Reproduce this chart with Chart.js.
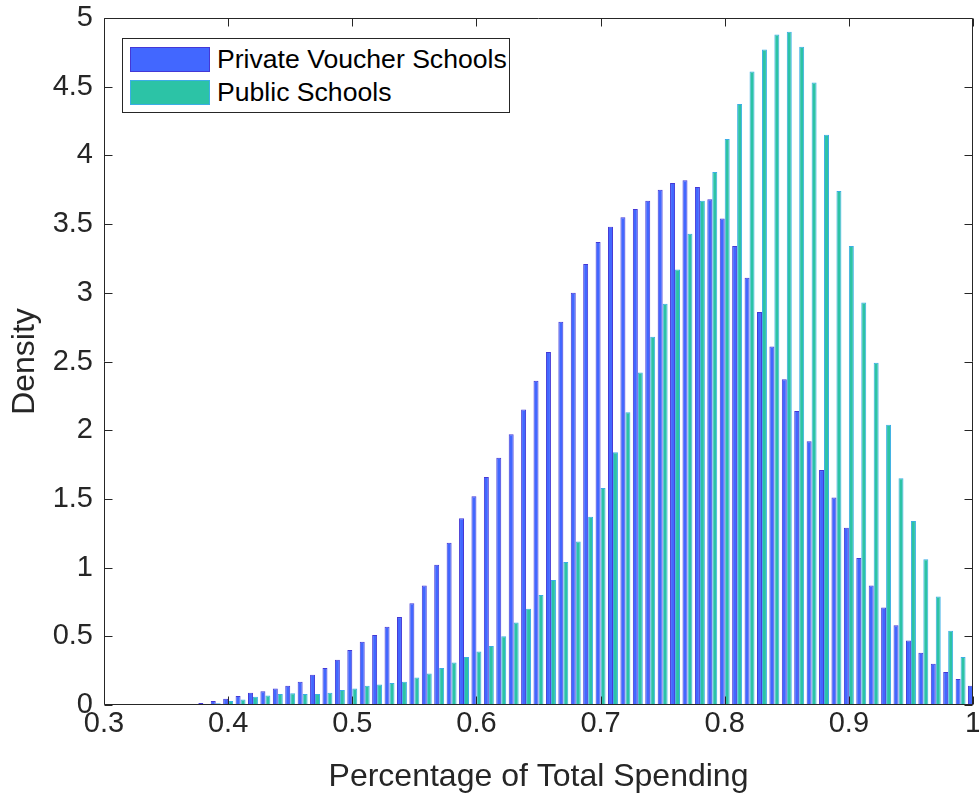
<!DOCTYPE html>
<html>
<head>
<meta charset="utf-8">
<script src="https://cdn.jsdelivr.net/npm/chart.js@4.4.1/dist/chart.umd.min.js"></script>
<style>
  html, body { margin: 0; padding: 0; background: #ffffff; }
  #wrap { position: relative; width: 979px; height: 796px; background: #ffffff; }
  #legend {
    position: absolute; left: 122px; top: 38px;
    border: 1px solid #262626; background: #ffffff;
    padding: 8px 2px 7px 7px;
    font-family: "Liberation Sans", Arial, Helvetica, sans-serif;
    font-size: 26.6px; color: #000000;
  }
  .item { display: flex; align-items: center; height: 25px; }
  .item + .item { margin-top: 8px; }
  .sw { width: 78px; height: 23px; margin-right: 7px; box-sizing: content-box; }
</style>
</head>
<body>
<div id="wrap">
  <canvas id="c" width="979" height="796"></canvas>
  <div id="legend"></div>
</div>
<script>
// ---- data ----
const binCenters = ['0.30','0.31','0.32','0.33','0.34','0.35','0.36','0.37','0.38','0.39',
                    '0.40','0.41','0.42','0.43','0.44','0.45','0.46','0.47','0.48','0.49',
                    '0.50','0.51','0.52','0.53','0.54','0.55','0.56','0.57','0.58','0.59',
                    '0.60','0.61','0.62','0.63','0.64','0.65','0.66','0.67','0.68','0.69',
                    '0.70','0.71','0.72','0.73','0.74','0.75','0.76','0.77','0.78','0.79',
                    '0.80','0.81','0.82','0.83','0.84','0.85','0.86','0.87','0.88','0.89',
                    '0.90','0.91','0.92','0.93','0.94','0.95','0.96','0.97','0.98','0.99',
                    '1.00'];

const privateVoucher = [0, 0, 0, 0, 0.001, 0.002, 0.004, 0.008, 0.015, 0.03,
                        0.045, 0.065, 0.09, 0.10, 0.12, 0.14, 0.17, 0.22, 0.27, 0.33,
                        0.40, 0.46, 0.51, 0.57, 0.64, 0.74, 0.87, 1.02, 1.18, 1.36,
                        1.52, 1.66, 1.80, 1.97, 2.15, 2.36, 2.57, 2.79, 3.00, 3.21,
                        3.37, 3.48, 3.55, 3.61, 3.67, 3.75, 3.80, 3.82, 3.77, 3.68,
                        3.54, 3.34, 3.11, 2.86, 2.61, 2.37, 2.14, 1.92, 1.71, 1.51,
                        1.29, 1.07, 0.87, 0.71, 0.58, 0.47, 0.38, 0.30, 0.24, 0.19,
                        0.14];

const publicSchools = [0, 0, 0, 0, 0, 0, 0, 0.003, 0.006, 0.012,
                       0.03, 0.04, 0.06, 0.07, 0.08, 0.085, 0.08, 0.08, 0.09, 0.11,
                       0.12, 0.14, 0.15, 0.16, 0.17, 0.20, 0.23, 0.27, 0.31, 0.35,
                       0.39, 0.43, 0.50, 0.60, 0.70, 0.80, 0.91, 1.04, 1.19, 1.37,
                       1.58, 1.84, 2.13, 2.42, 2.68, 2.92, 3.17, 3.43, 3.67, 3.88,
                       4.12, 4.375, 4.61, 4.77, 4.88, 4.90, 4.79, 4.53, 4.15, 3.74,
                       3.34, 2.93, 2.49, 2.04, 1.65, 1.34, 1.06, 0.79, 0.54, 0.35,
                       0.20];

const seriesNames = ['Private Voucher Schools', 'Public Schools'];

const xTickValues = [0.3, 0.4, 0.5, 0.6, 0.7, 0.8, 0.9, 1.0];
const xTickLabels = ['0.3', '0.4', '0.5', '0.6', '0.7', '0.8', '0.9', '1'];
const yTickValues = [0, 0.5, 1, 1.5, 2, 2.5, 3, 3.5, 4, 4.5, 5];
const yTickLabels = ['0', '0.5', '1', '1.5', '2', '2.5', '3', '3.5', '4', '4.5', '5'];

// ---- styling ----
const FONT = '"Liberation Sans", Arial, Helvetica, sans-serif';
const AXIS = '#262626';
const COLORS = [
  { fill: '#4267ff', edge: '#4438d6' },
  { fill: '#2cc3a6', edge: '#3aaee6' }
];

const boxPlugin = {
  id: 'matlabBox',
  afterDatasetsDraw(chart) {
    const { ctx, chartArea: a, scales } = chart;
    const L = Math.round(a.left) + 0.5, R = Math.round(a.right) - 0.5;
    const T = Math.round(a.top) + 0.5, B = Math.round(a.bottom) - 0.5;
    const tl = 8;
    ctx.save();
    ctx.strokeStyle = AXIS;
    ctx.lineWidth = 1;
    ctx.beginPath();
    ctx.moveTo(L, T); ctx.lineTo(R, T); ctx.lineTo(R, B); ctx.lineTo(L, B); ctx.closePath();
    scales.x2.ticks.forEach(t => {
      const px = Math.round(scales.x2.getPixelForValue(t.value)) + 0.5;
      ctx.moveTo(px, B); ctx.lineTo(px, B - tl);
      ctx.moveTo(px, T); ctx.lineTo(px, T + tl);
    });
    scales.y.ticks.forEach(t => {
      const py = Math.round(scales.y.getPixelForValue(t.value)) + 0.5;
      ctx.moveTo(L, py); ctx.lineTo(L + tl, py);
      ctx.moveTo(R, py); ctx.lineTo(R - tl, py);
    });
    ctx.stroke();
    ctx.restore();
  }
};

const chart = new Chart(document.getElementById('c'), {
  type: 'bar',
  data: {
    labels: binCenters,
    datasets: [
      {
        label: seriesNames[0], data: privateVoucher,
        backgroundColor: COLORS[0].fill, borderColor: COLORS[0].edge, borderWidth: 1,
        xAxisID: 'x', yAxisID: 'y', clip: 0
      },
      {
        label: seriesNames[1], data: publicSchools,
        backgroundColor: COLORS[1].fill, borderColor: COLORS[1].edge, borderWidth: 1,
        xAxisID: 'x', yAxisID: 'y', clip: 0
      }
    ]
  },
  options: {
    responsive: false,
    devicePixelRatio: 1,
    animation: false,
    categoryPercentage: 0.8,
    barPercentage: 1.0,
    layout: { padding: { left: 0, right: 6, top: 18, bottom: 0 } },
    plugins: { legend: { display: false }, tooltip: { enabled: false } },
    scales: {
      x: {
        type: 'category', display: false, offset: false,
        grid: { offset: false }
      },
      x2: {
        type: 'linear', position: 'bottom', min: 0.3, max: 1.0, offset: false,
        afterBuildTicks(s) { s.ticks = xTickValues.map(v => ({ value: v })); },
        afterFit(s) { s.height = 91; s.paddingLeft = 0; s.paddingRight = 0; },
        grid: { display: false, drawTicks: false, offset: false },
        border: { display: false },
        ticks: {
          padding: 2, color: AXIS, maxRotation: 0, autoSkip: false,
          font: { family: FONT, size: 29 },
          callback(v) { const i = xTickValues.findIndex(t => Math.abs(t - v) < 1e-9); return i >= 0 ? xTickLabels[i] : ''; }
        },
        title: {
          display: true, text: 'Percentage of Total Spending', color: AXIS,
          font: { family: FONT, size: 32 }, padding: { top: 0, bottom: 0 }
        }
      },
      y: {
        type: 'linear', position: 'left', min: 0, max: 5,
        afterBuildTicks(s) { s.ticks = yTickValues.map(v => ({ value: v })); },
        afterFit(s) { s.width = 104; s.paddingTop = 0; s.paddingBottom = 0; },
        grid: { display: false, drawTicks: false },
        border: { display: false },
        ticks: {
          padding: 11, color: AXIS,
          font: { family: FONT, size: 29 },
          callback(v) { const i = yTickValues.findIndex(t => Math.abs(t - v) < 1e-9); return i >= 0 ? yTickLabels[i] : ''; }
        },
        title: {
          display: true, text: 'Density', color: AXIS,
          font: { family: FONT, size: 32 }, padding: { top: 6, bottom: 0 }
        }
      }
    }
  },
  plugins: [boxPlugin]
});

// legend built from the chart's own datasets
const legend = document.getElementById('legend');
chart.data.datasets.forEach(ds => {
  const row = document.createElement('div');
  row.className = 'item';
  const sw = document.createElement('div');
  sw.className = 'sw';
  sw.style.background = ds.backgroundColor;
  sw.style.border = '1px solid ' + ds.borderColor;
  const tx = document.createElement('span');
  tx.textContent = ds.label;
  row.appendChild(sw); row.appendChild(tx);
  legend.appendChild(row);
});
</script>
</body>
</html>
